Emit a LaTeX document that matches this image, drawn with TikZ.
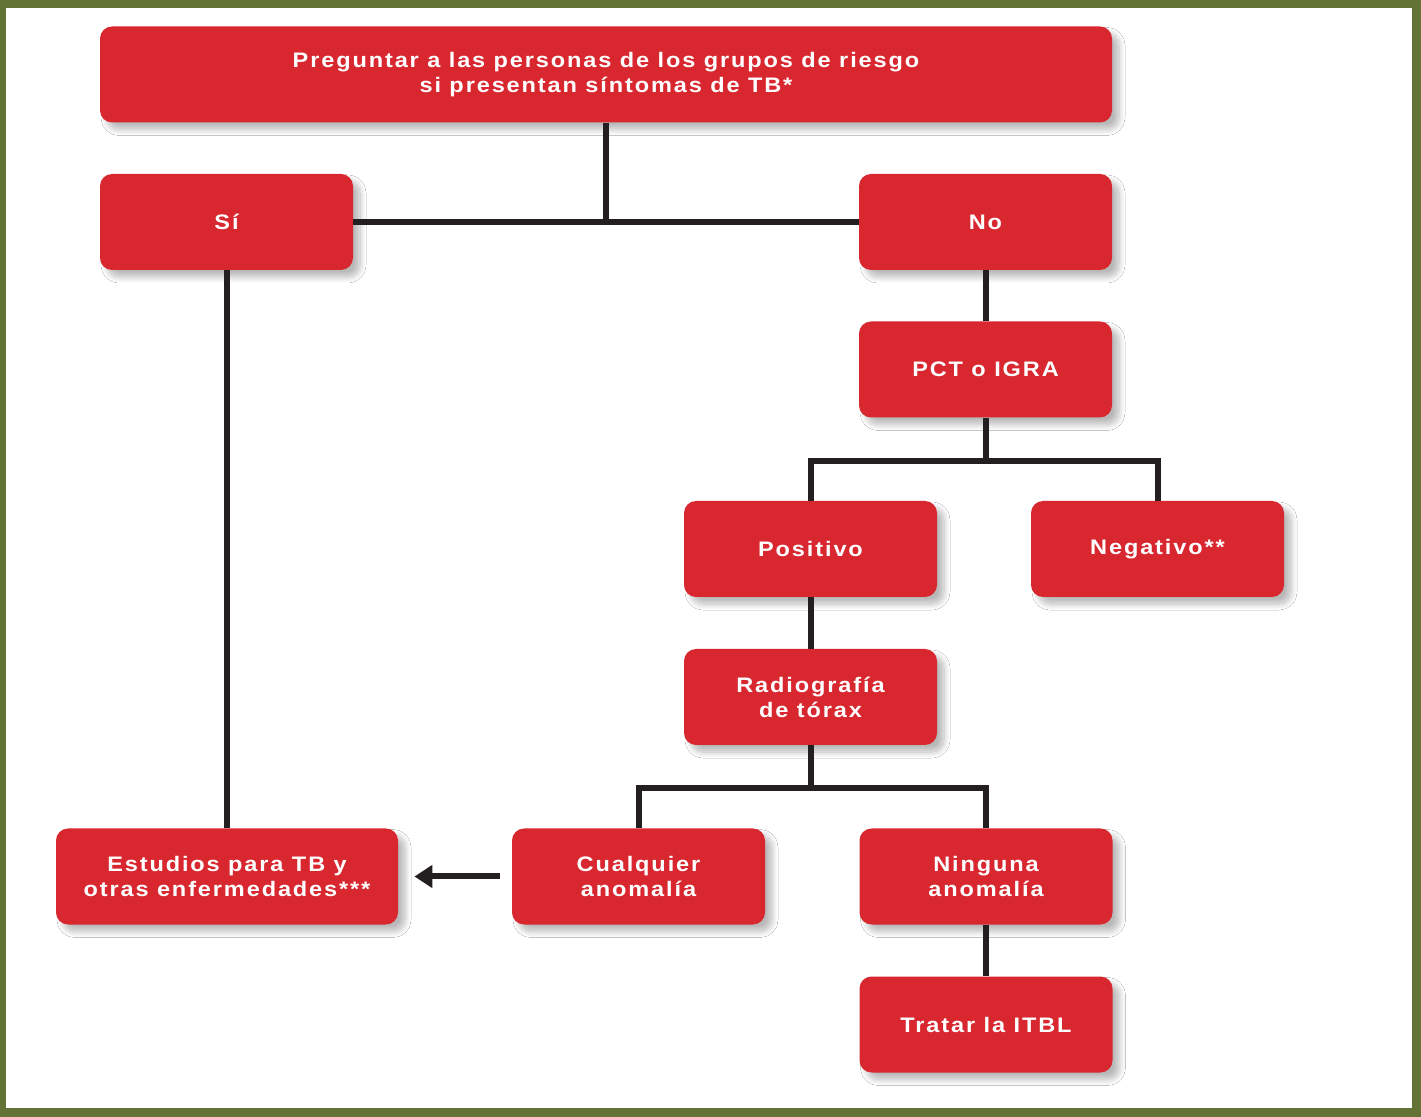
\documentclass[tikz,border=0pt]{standalone}
\usepackage{fontspec}
\setmainfont{Liberation Sans}[LetterSpace=9,FakeStretch=1.12]
\usetikzlibrary{arrows.meta,shadows.blur}

\definecolor{boxred}{HTML}{D8272F}
\definecolor{frame}{HTML}{627335}
\definecolor{line}{HTML}{231F20}

\begin{document}
\begin{tikzpicture}[x=0.5pt,y=-0.5pt]
            % frame
            \fill[frame] (0,0) rectangle (1421,1117);
            \fill[white] (6,8) rectangle (1412,1108);
            \useasboundingbox (0,0) rectangle (1421,1117);

            \begin{scope}[every node/.style={fill=boxred,rounded corners=6pt,text=white,font=\bfseries\fontsize{10.5}{12.5}\selectfont,align=center,minimum width=126.5pt,minimum height=48pt,inner sep=2pt,blur shadow={shadow xshift=3.5pt,shadow yshift=-3.5pt,shadow blur steps=10,shadow blur radius=3pt,shadow opacity=28}}]
                \node[minimum width=506pt] (top) at (606,74.5) {Preguntar a las personas de los grupos de riesgo\\si presentan síntomas de TB*};
                \node (si) at (226.5,222) {Sí};
                \node (no) at (985.5,222) {No};
                \node (pct) at (985.5,369.5) {PCT o IGRA};
                \node (pos) at (810.5,549) {Positivo};
                \node (neg) at (1157.5,549) {Negativo**};
                \node (rx) at (810.5,697) {Radiografía\\de tórax};
                \node[minimum width=171pt] (est) at (227,876.5) {Estudios para TB y\\otras enfermedades***};
                \node (cual) at (638.5,876.5) {Cualquier\\anomalía};
                \node (ning) at (986,876.5) {Ninguna\\anomalía};
                \node (itbl) at (986,1024.5) {Tratar la ITBL};
            \end{scope}

            \coordinate (j1) at (607,461);
            \coordinate (j2) at (810.5,788);

            \begin{scope}[every path/.style={draw=line,line width=3pt}]
                \path (top.south) -- (top.south |- si.east);
                \path (si.east) -- (no.west);
                \path (no.south) -- (pct.north);
                \path (pct.south) -- (pct.south |- j1);
                \path (pos.north) |- (j1 -| pct.south) -| (neg.north);
                \path (pos.south) -- (rx.north);
                \path (rx.south) -- (j2);
                \path (cual.north) |- (j2) -| (ning.north);
                \path (ning.south) -- (itbl.north);
                \path (si.south -| est.north) -- (est.north);
                \path[-{Triangle[length=9pt,width=11pt]},shorten <=6pt,shorten >=8pt] (cual.west) -- (est.east);
            \end{scope}
        \end{tikzpicture}
\end{document}
